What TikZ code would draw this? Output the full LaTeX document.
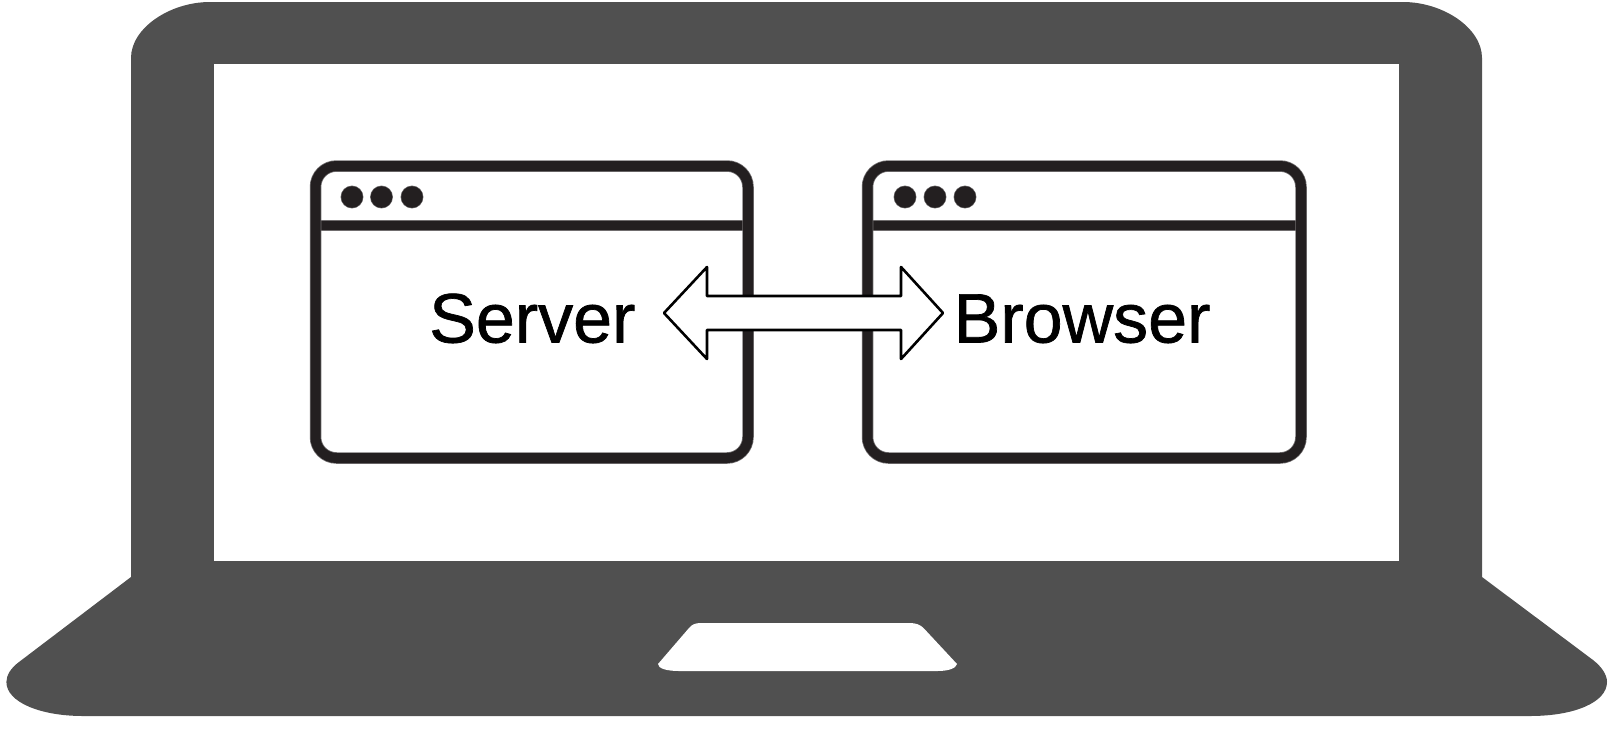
\documentclass[tikz,border=0pt]{standalone}
\usepackage{fontspec}
\setmainfont[FakeBold=1]{Liberation Sans}
\definecolor{laptopgrey}{HTML}{505050}
\definecolor{windowink}{HTML}{231F20}
\tikzset{
  laptopbody/.style={fill=laptopgrey,draw=none},
  hole/.style={fill=white,draw=none},
  windowframe/.style={preaction={draw=windowink!65,line width=11.5pt},draw=windowink,line width=10pt,rounded corners=21pt,fill=none},
  titlerule/.style={preaction={draw=windowink!65,line width=11pt},draw=windowink,line width=9.5pt},
  winbutton/.style={preaction={fill=windowink!65,draw=windowink!65,line width=1.2pt},fill=windowink,draw=none},
  flowarrow/.style={draw=black,line width=2.6pt,fill=white,line join=round},
  caption/.style={anchor=base west,inner sep=0pt,font=\fontsize{70}{70}\selectfont,text=black}
}
\begin{document}
\begin{tikzpicture}[x=1pt,y=-1pt]
\useasboundingbox (0,0) rectangle (1624,740);
% laptop silhouette
\path[laptopbody]
  (131,58) .. controls (131,28) and (170,2) .. (210,2)
  -- (1403,2) .. controls (1443,2) and (1482,28) .. (1482,58)
  -- (1482,577) -- (1593,660)
  .. controls (1602,667) and (1607,675) .. (1607,682)
  .. controls (1607,702) and (1575,716) .. (1530,716)
  -- (83,716)
  .. controls (40,716) and (6.4,702) .. (6.4,682)
  .. controls (6.4,675) and (11,668) .. (19,662)
  -- (131,577) -- cycle;
% screen
\path[hole] (214,64) rectangle (1399,561);
% trackpad
\path[hole]
  (701,623) -- (909,623)
  .. controls (916,623) and (920,624.5) .. (923.5,628)
  -- (957,664)
  .. controls (956,668.5) and (948,671) .. (937.5,671)
  -- (679,671)
  .. controls (667,671) and (658,668.5) .. (658,664)
  -- (689,628)
  .. controls (692,624.5) and (695,623) .. (701,623) -- cycle;
% windows
\draw[titlerule] (316,225.5) -- (748,225.5);
\draw[windowframe] (315.5,166) rectangle (748,458);
\fill[winbutton] (352,197) circle (10.8);
\fill[winbutton] (381.5,197) circle (10.8);
\fill[winbutton] (412,197) circle (10.8);
\draw[titlerule] (867.5,225.5) -- (1301,225.5);
\draw[windowframe] (867.5,166) rectangle (1301,458);
\fill[winbutton] (905,197) circle (10.8);
\fill[winbutton] (935,197) circle (10.8);
\fill[winbutton] (965,197) circle (10.8);
% double arrow
\draw[flowarrow]
  (664,313) -- (707,267) -- (707,296) -- (901,296) -- (901,267) -- (943,313)
  -- (901,359) -- (901,330) -- (707,330) -- (707,359) -- cycle;
% labels
\node[caption] (server) at (429,342.5) {Server};
\node[caption] (browser) at (953.5,342.5) {Browser};
\end{tikzpicture}
\end{document}
